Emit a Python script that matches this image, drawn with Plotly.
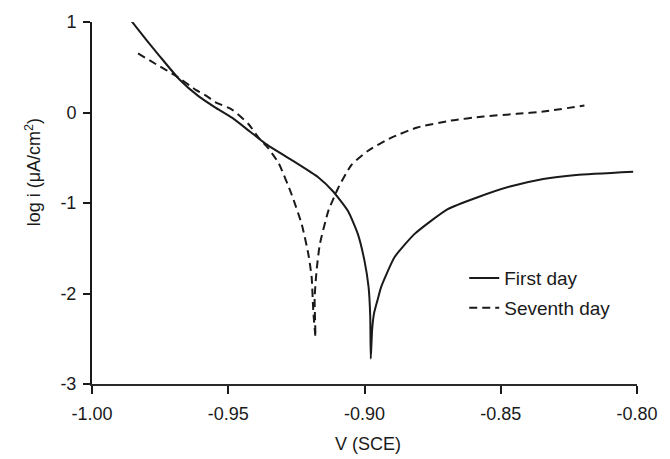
import plotly.graph_objects as go

# First day (solid)
first_v = [-0.9855, -0.980, -0.9752, -0.968, -0.9607, -0.955, -0.9485, -0.9425, -0.9364,
           -0.9267, -0.917, -0.9115, -0.906, -0.9024, -0.900, -0.8985, -0.8979, -0.8977,
           -0.8972, -0.8965, -0.8951, -0.8939, -0.889, -0.8818, -0.8757, -0.8696, -0.8587,
           -0.8466, -0.8344, -0.8223, -0.8014]
first_logi = [1.01, 0.80, 0.624, 0.368, 0.175, 0.06, -0.06, -0.20, -0.344,
              -0.526, -0.715, -0.873, -1.092, -1.347, -1.64, -1.93, -2.25, -2.72,
              -2.40, -2.22, -2.06, -1.93, -1.60, -1.347, -1.20, -1.07, -0.939,
              -0.818, -0.734, -0.69, -0.654]

# Seventh day (dashed)
seventh_v = [-0.9831, -0.9764, -0.9692, -0.9619, -0.9582, -0.9546, -0.9485, -0.9425, -0.9388,
             -0.9352, -0.9315, -0.9267, -0.923, -0.9206, -0.9194, -0.9188, -0.918, -0.9183,
             -0.9176, -0.9164, -0.9133, -0.9097, -0.9048, -0.8988, -0.8903, -0.8806, -0.8684,
             -0.8563, -0.8441, -0.8344, -0.8193]
seventh_logi = [0.653, 0.532, 0.405, 0.25, 0.186, 0.113, 0.03, -0.13, -0.28,
                -0.40, -0.56, -0.909, -1.238, -1.566, -1.82, -2.19, -2.48, -2.05,
                -1.75, -1.457, -1.09, -0.837, -0.58, -0.425, -0.28, -0.165, -0.09,
                -0.044, -0.015, 0.011, 0.077]

x_ticks = [-1.00, -0.95, -0.90, -0.85, -0.80]
x_tick_labels = ["-1.00", "-0.95", "-0.90", "-0.85", "-0.80"]
y_ticks = [-3, -2, -1, 0, 1]
y_tick_labels = ["-3", "-2", "-1", "0", "1"]
series_names = ["First day", "Seventh day"]

FONT = "Arial, Liberation Sans, Helvetica, sans-serif"

fig = go.Figure()
fig.add_trace(go.Scatter(x=first_v, y=first_logi, mode="lines", name=series_names[0],
                         line=dict(color="#1a1a1a", width=2, shape="spline", smoothing=0.5),
                         legendgroup="a"))
fig.add_trace(go.Scatter(x=seventh_v, y=seventh_logi, mode="lines", name=series_names[1],
                         line=dict(color="#1a1a1a", width=2, dash="8px,5px",
                                   shape="spline", smoothing=0.5),
                         legendgroup="b"))

fig.update_layout(
    width=670, height=459,
    margin=dict(l=92, r=29, t=19, b=75),
    paper_bgcolor="white", plot_bgcolor="white",
    font=dict(family=FONT, size=18, color="#1a1a1a"),
    showlegend=True,
    legend=dict(x=0.683, y=0.345, xanchor="left", yanchor="top",
                font=dict(size=19), bgcolor="rgba(0,0,0,0)", tracegroupgap=2),
    xaxis=dict(range=[-1.0, -0.80], tickvals=x_ticks, ticktext=x_tick_labels,
               showline=True, linecolor="#2a2a2a", linewidth=2, mirror=False,
               ticks="outside", ticklen=8, tickwidth=2, tickcolor="#1a1a1a",
               showgrid=False, zeroline=False, tickfont=dict(size=18),
               ticklabelstandoff=4),
    yaxis=dict(range=[-3, 1], tickvals=y_ticks, ticktext=y_tick_labels,
               showline=True, linecolor="#1a1a1a", linewidth=2,
               ticks="outside", ticklen=7, tickwidth=2, tickcolor="#1a1a1a",
               showgrid=False, zeroline=False, tickfont=dict(size=18),
               ticklabelstandoff=3),
    annotations=[
        dict(text="log i (μA/cm<sup>2</sup>)", textangle=-90, xref="paper", yref="paper",
             x=-0.108, y=0.585, xanchor="center", yanchor="middle", showarrow=False,
             font=dict(size=18)),
        dict(text="V (SCE)", xref="paper", yref="paper", x=0.507, y=-0.165,
             xanchor="center", yanchor="middle", showarrow=False, font=dict(size=18)),
    ],
)

fig.write_html("out.html", config={"displayModeBar": False},
               post_script="document.body.style.margin='0';document.body.style.padding='0';")
